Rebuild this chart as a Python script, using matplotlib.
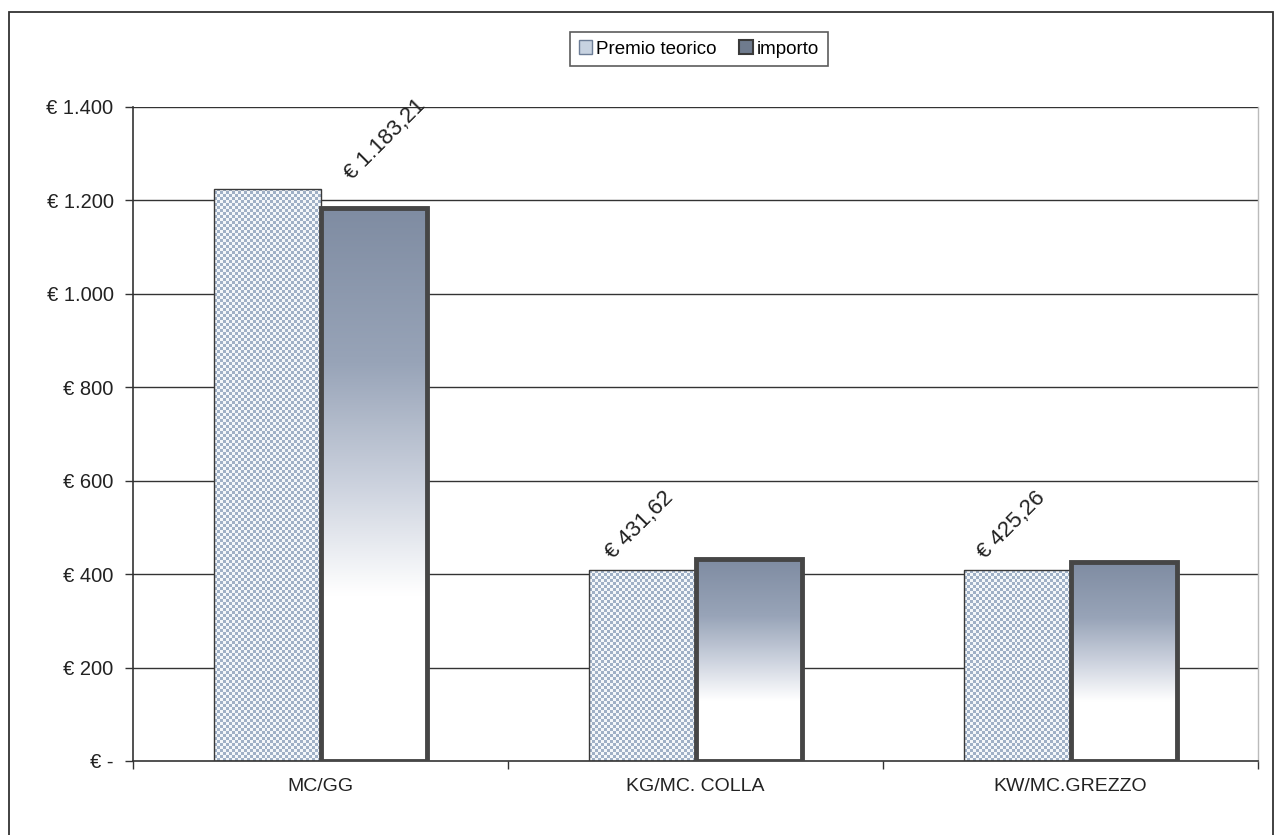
import matplotlib
matplotlib.use("Agg")
import matplotlib.pyplot as plt
import numpy as np
from matplotlib.patches import Rectangle, Patch
from matplotlib.colors import LinearSegmentedColormap, ListedColormap
from matplotlib.ticker import FuncFormatter, FixedLocator

plt.rcParams['font.family'] = ['Liberation Sans', 'DejaVu Sans']

categories = ["MC/GG", "KG/MC. COLLA", "KW/MC.GREZZO"]
premio_teorico = [1225, 408, 408]
importo = [1183.21, 431.62, 425.26]
series_names = ["Premio teorico", "importo"]
y_ticks = [0, 200, 400, 600, 800, 1000, 1200, 1400]
# label placement offsets (category-relative x, absolute y) for the importo value labels
label_dx = [0.172, -0.148, -0.156]
label_y = [1330, 505, 505]


def it_money(v, decimals=0):
    if v == 0:
        return "€ -"
    s = f"{v:,.{decimals}f}"
    s = s.replace(",", "X").replace(".", ",").replace("X", ".")
    return f"€ {s}"


fig = plt.figure(figsize=(12.79, 8.35), dpi=100)
fig.patch.set_facecolor("white")
ax = fig.add_axes([133 / 1279, 1 - 761 / 835, (1258 - 133) / 1279, (761 - 107) / 835])

# outer frame
fig.patches.append(Rectangle((9 / 1279, -0.02), (1273 - 9) / 1279, 1 - 12 / 835 + 0.02,
                             transform=fig.transFigure, fill=False,
                             edgecolor="#333333", linewidth=1.3, zorder=0))

x = np.arange(len(categories))
w = 0.285

ax.set_xlim(-0.5, len(categories) - 0.5)
ax.set_ylim(0, 1400)

for yv in y_ticks[1:]:
    ax.axhline(yv, color="#333333", linewidth=1.0, zorder=1)

# Premio teorico bars (checker texture)
checker_cmap = ListedColormap(["#f4f7fa", "#9fb0c6"])
pb = ax.bar(x - w / 2, premio_teorico, width=w, facecolor="none",
            edgecolor="#3a3a3a", linewidth=1.0, zorder=3)
for rect, val in zip(pb, premio_teorico):
    x0 = rect.get_x()
    nx = 36
    ny = max(2, int(round(val * 0.467 / 3)))
    ii, jj = np.indices((ny, nx))
    tex = ((ii + jj) % 2).astype(float)
    im = ax.imshow(tex, cmap=checker_cmap, origin="lower", aspect="auto",
                   interpolation="nearest",
                   extent=(x0, x0 + rect.get_width(), 0, val), zorder=2)
    im.set_clip_path(Rectangle((x0, 0), rect.get_width(), val, transform=ax.transData))

# importo bars with vertical gradient
cmap = LinearSegmentedColormap.from_list(
    "imp", [(0.0, "#ffffff"), (0.30, "#ffffff"), (0.50, "#ccd2de"),
            (0.72, "#98a4b8"), (1.0, "#7f8ca2")])
grad = np.linspace(0, 1, 256).reshape(-1, 1)
ib = ax.bar(x + w / 2, importo, width=w, facecolor="none",
            edgecolor="#464646", linewidth=3.5, zorder=5)
for rect, val in zip(ib, importo):
    x0 = rect.get_x()
    im = ax.imshow(grad, cmap=cmap, origin="lower", aspect="auto",
                   extent=(x0, x0 + rect.get_width(), 0, val), zorder=4)
    im.set_clip_path(Rectangle((x0, 0), rect.get_width(), val, transform=ax.transData))
ax.set_xlim(-0.5, len(categories) - 0.5)
ax.set_ylim(0, 1400)

# value labels
for i, val in enumerate(importo):
    ax.text(x[i] + label_dx[i], label_y[i], it_money(val, 2), rotation=45,
            ha="center", va="center", fontsize=16, color="#222222",
            rotation_mode="anchor", zorder=6)

# axes styling
ax.yaxis.set_major_locator(FixedLocator(y_ticks))
ax.yaxis.set_major_formatter(FuncFormatter(lambda v, p: it_money(v)))
ax.set_xticks(x)
ax.set_xticklabels(categories)
ax.set_xticks(np.arange(-0.5, len(categories) + 0.5, 1), minor=True)
ax.tick_params(axis="x", which="major", length=0, pad=12, labelsize=14, labelcolor="#222222")
ax.tick_params(axis="x", which="minor", length=6, width=1.0, color="#333333", direction="out")
ax.tick_params(axis="y", length=6, width=1.0, color="#333333", direction="out",
               labelsize=14.5, labelcolor="#222222", pad=8)
ax.spines["top"].set_visible(False)
ax.spines["right"].set_color("#bbbbbb")
ax.spines["right"].set_linewidth(1.0)
ax.spines["left"].set_color("#333333")
ax.spines["bottom"].set_color("#333333")
ax.spines["left"].set_linewidth(1.2)
ax.spines["bottom"].set_linewidth(1.2)

handles = [Patch(facecolor="#c7d2e0", edgecolor="#6c7d96", linewidth=1.0),
           Patch(facecolor="#6f7b8e", edgecolor="#3a3a3a", linewidth=1.5)]
leg = fig.legend(handles, series_names, loc="center", bbox_to_anchor=(699 / 1279, 1 - 49 / 835),
                 ncol=2, frameon=True, fancybox=False, fontsize=13.5, handlelength=0.7,
                 handleheight=0.7, handletextpad=0.25, columnspacing=1.2,
                 borderpad=0.45, edgecolor="#333333")
leg.get_frame().set_linewidth(1.2)

fig.savefig("out.png", dpi=100, facecolor="white")
